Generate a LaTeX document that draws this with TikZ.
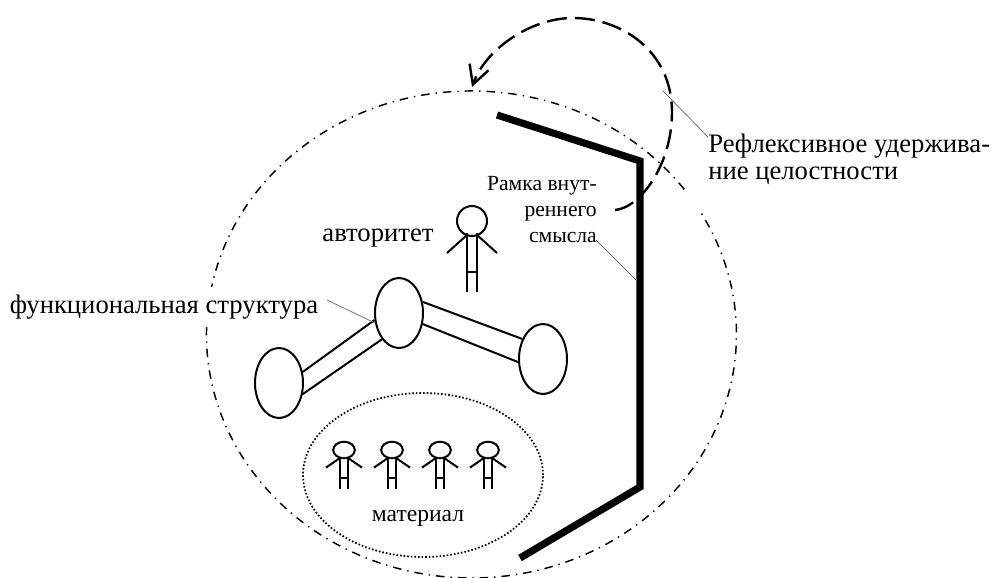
\documentclass[tikz,border=0pt]{standalone}
\usepackage{fontspec}
\setmainfont{Liberation Serif}
\usetikzlibrary{arrows.meta,shapes.geometric}
\definecolor{myleadergray}{RGB}{120,120,120}
\tikzset{
  blob/.style={draw, ellipse, minimum width=36, minimum height=52.5, inner sep=0, line width=1.5},
  leader/.style={myleadergray, line width=0.6},
  bar/.style={line width=1.5},
  bigtext/.style={font=\fontsize{20}{20.3}\selectfont, inner sep=0},
  smalltext/.style={font=\fontsize{16.2}{19.4}\selectfont, inner sep=0, align=right},
  person/.pic={
    \draw[line width=1.5] (0,0) ellipse (15 and 15);
    \draw[line width=1.5] (-5,12) -- (-5,71) (5,12) -- (5,71) (-5,51) -- (5,51);
    \draw[line width=1.5] (-5,14) -- (-25,32) (5,14) -- (25,32);
  }
}
\begin{document}
\begin{tikzpicture}[x=0.75pt, y=-0.75pt]
    % Fix the page size
    \useasboundingbox (0,0) rectangle (993,578);

    % Big dash-dotted ring, open on the right, and dotted ring
    \coordinate (ringstart) at (684.2,189.3);
    \draw[line width=1.1, dash pattern=on 6.4 off 4.5 on 1 off 4.5]
      (ringstart) arc [start angle=-36.6, end angle=-389.9, x radius=265, y radius=243.5];
    \node (matring) [draw, ellipse, minimum width=180, minimum height=123, inner sep=0, line width=1.3,
      dash pattern=on 1.2 off 1.5] at (423,475) {};

    % Thick frame
    \coordinate (frameA) at (497,115);
    \coordinate (frameB) at (640,161);
    \coordinate (frameC) at (640,487);
    \coordinate (frameD) at (520,558);
    \draw[line width=5.4, miter limit=10] (frameA) -- (frameB) -- (frameC) -- (frameD);

    % Dashed return arc with open tip
    \coordinate (arcstart) at (615,210);
    \coordinate (arcright) at (672,112);
    \coordinate (arctop) at (573,18);
    \coordinate (arctip) at (472,87);
    \draw[line width=1.8, dash pattern=on 15 off 6, -{Straight Barb[length=14pt,width=15pt]}]
      (arcstart) .. controls (640,208) and (672,165) .. (arcright)
      .. controls (672,50) and (620,18) .. (arctop)
      .. controls (530,18) and (485,50) .. (arctip);

    % Three blobs and their bars
    \node (blobA) [blob] at (279,383) {};
    \node (blobB) [blob] at (399,313) {};
    \node (blobC) [blob] at (543,359) {};
    \draw[bar] (blobA.25) -- (blobB.196);
    \draw[bar] (blobA.-25) -- (blobB.237);
    \draw[bar] (blobB.25) -- (blobC.136);
    \draw[bar] (blobB.-25) -- (blobC.187);

    % People
    \pic at (472,221) {person};
    \foreach \px in {344,392,440,488}
      \pic[xscale=0.72, yscale=0.55] at (\px,450) {person};

    % Labels
    \node (authlabel) [bigtext] at (378,238) {авторитет};
    \node (funclabel) [bigtext, fill=white, inner ysep=6] at (164,307) {функциональная структура};
    \node (matlabel) [bigtext, font=\fontsize{17.7}{18}\selectfont] at (418,518) {материал};
    \node (framelabel) [smalltext, anchor=north east] at (597,176) {Рамка внут-\\реннего\\смысла};
    \node (reflexlabel) [bigtext, anchor=north west, align=left] at (708,134)
      {Рефлексивное удержива-\\ние целостности};

    % Thin leaders
    \coordinate (reflexstart) at (708,137);
    \coordinate (reflexend) at (663,91);
    \coordinate (framestart) at (596,240);
    \coordinate (frameend) at (636,280);
    \coordinate (funcstart) at (327,300);
    \coordinate (funcend) at (375,323);
    \draw[leader] (reflexstart) -- (reflexend);
    \draw[leader] (framestart) -- (frameend);
    \draw[leader] (funcstart) -- (funcend);
\end{tikzpicture}
\end{document}
